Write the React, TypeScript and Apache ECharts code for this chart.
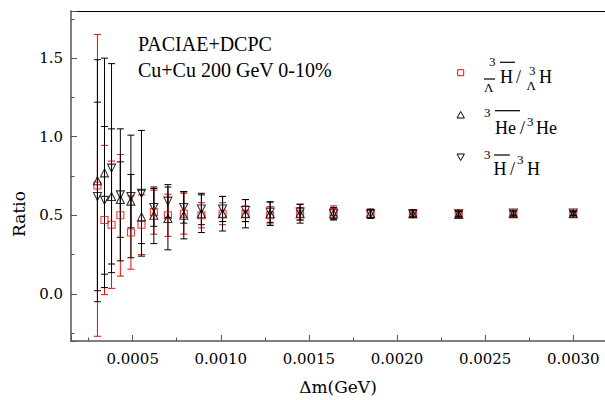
import React, { useEffect, useRef } from 'react';
import * as echarts from 'echarts';

// Δm (GeV)
const dm = [0.0003, 0.00034, 0.00038, 0.00043, 0.00049, 0.00055, 0.00062, 0.0007, 0.00079, 0.00089, 0.00101, 0.00114, 0.00128, 0.00145, 0.00164, 0.00185, 0.00209, 0.00235, 0.00266, 0.003];
// anti-hypertriton / hypertriton
const ratioLambda = [0.69, 0.47, 0.44, 0.5, 0.39, 0.44, 0.52, 0.5, 0.51, 0.5, 0.51, 0.51, 0.5, 0.51, 0.52, 0.51, 0.51, 0.51, 0.51, 0.51];
const errLambda = [0.96, 0.475, 0.405, 0.387, 0.233, 0.19, 0.14, 0.134, 0.13, 0.08, 0.07, 0.05, 0.055, 0.04, 0.04, 0.025, 0.02, 0.015, 0.015, 0.012];
// anti-helium3 / helium3
const ratioHe = [0.72, 0.77, 0.62, 0.6, 0.59, 0.49, 0.5, 0.48, 0.5, 0.51, 0.51, 0.51, 0.51, 0.51, 0.51, 0.51, 0.51, 0.505, 0.51, 0.51];
const errHe = [0.77, 0.73, 0.43, 0.24, 0.17, 0.17, 0.18, 0.2, 0.15, 0.12, 0.11, 0.09, 0.075, 0.06, 0.04, 0.03, 0.025, 0.02, 0.02, 0.015];
// anti-triton / triton
const ratioH = [0.62, 0.595, 0.8, 0.63, 0.62, 0.64, 0.55, 0.59, 0.55, 0.54, 0.54, 0.53, 0.52, 0.52, 0.51, 0.51, 0.51, 0.51, 0.515, 0.515];
const errH = [0.6, 0.47, 0.665, 0.42, 0.39, 0.4, 0.12, 0.105, 0.1, 0.1, 0.08, 0.07, 0.065, 0.05, 0.035, 0.025, 0.02, 0.018, 0.015, 0.015];

const annotation = ['PACIAE+DCPC', 'Cu+Cu 200 GeV 0-10%'];
const xName = 'Δm(GeV)';
const yName = 'Ratio';

const RED = '#ff0000';
const BLACK = '#000000';
const SERIF = '"Liberation Serif", "Times New Roman", serif';
const LABEL_FONT = '"DejaVu Serif", serif';

function errorSeries(name: string, vals: number[], errs: number[], color: string) {
  return {
    type: 'custom',
    name,
    z: 2,
    data: dm.map((x, i) => [x, vals[i] - errs[i], vals[i] + errs[i]]),
    encode: { x: 0, y: [1, 2] },
    renderItem: (_params: any, api: any) => {
      const x = api.value(0);
      const lo = api.coord([x, api.value(1)]);
      const hi = api.coord([x, api.value(2)]);
      const hw = 3.5;
      const style = { stroke: color, lineWidth: 1 };
      return {
        type: 'group',
        children: [
          { type: 'line', shape: { x1: lo[0], y1: lo[1], x2: hi[0], y2: hi[1] }, style },
          { type: 'line', shape: { x1: lo[0] - hw, y1: lo[1], x2: lo[0] + hw, y2: lo[1] }, style },
          { type: 'line', shape: { x1: hi[0] - hw, y1: hi[1], x2: hi[0] + hw, y2: hi[1] }, style },
        ],
      };
    },
  };
}

function pointSeries(name: string, vals: number[], symbol: string, rotate: number, size: number, color: string) {
  return {
    type: 'scatter',
    name,
    z: 3,
    symbol,
    symbolRotate: rotate,
    symbolSize: size,
    data: dm.map((x, i) => [x, vals[i]]),
    itemStyle: { color: 'rgba(0,0,0,0)', borderColor: color, borderWidth: 1.1 },
  };
}

function txt(text: string, x: number, y: number, size: number, font = SERIF) {
  return {
    type: 'text',
    x,
    y,
    style: { text, font: `${size}px ${font}`, fill: BLACK, align: 'left', verticalAlign: 'middle' },
  };
}

function bar(x1: number, x2: number, y: number) {
  return { type: 'line', shape: { x1, y1: y, x2, y2: y }, style: { stroke: BLACK, lineWidth: 1.2 } };
}

export default function App() {
  const ref = useRef<HTMLDivElement>(null);
  useEffect(() => {
    if (!ref.current) return;
    const chart = echarts.init(ref.current, undefined, { renderer: 'svg' });
    const xMin = 0.00015;
    const xMax = 0.00318;
    const axisColor = '#555555';
    chart.setOption({
      animation: false,
      backgroundColor: '#ffffff',
      grid: { left: 71, right: 0, top: 11, bottom: 59, outerBoundsMode: 'none' },
      xAxis: [
        {
          type: 'value',
          min: xMin,
          max: xMax,
          name: xName,
          nameLocation: 'middle',
          nameGap: 37,
          nameTextStyle: { fontFamily: LABEL_FONT, fontSize: 17, color: BLACK },
          axisLine: { show: true, onZero: false, lineStyle: { color: axisColor, width: 1.5 } },
          axisTick: { show: true, inside: true, length: 6, lineStyle: { color: axisColor, width: 1 } },
          minorTick: { show: true, splitNumber: 2, length: 3.5, lineStyle: { color: axisColor, width: 1 } },
          axisLabel: {
            show: true,
            margin: 10,
            showMinLabel: false,
            showMaxLabel: false,
            fontFamily: LABEL_FONT,
            fontSize: 15,
            color: BLACK,
            formatter: (v: number) => {
              const k = v / 0.0005;
              return Math.abs(k - Math.round(k)) < 1e-6 ? v.toFixed(4) : '';
            },
          },
          splitLine: { show: false },
          minorSplitLine: { show: false },
        },
        {
          type: 'value',
          position: 'top',
          min: xMin,
          max: xMax,
          axisLine: { show: true, onZero: false, lineStyle: { color: BLACK, width: 1 } },
          axisTick: { show: false },
          axisLabel: { show: false },
          splitLine: { show: false },
        },
      ],
      yAxis: {
        type: 'value',
        min: -0.3,
        max: 1.8,
        splitNumber: 5,
        axisLine: { show: true, onZero: false, lineStyle: { color: axisColor, width: 1.5 } },
        axisTick: { show: true, inside: true, length: 6, lineStyle: { color: axisColor, width: 1 } },
        minorTick: { show: true, splitNumber: 2, length: 3.5, lineStyle: { color: axisColor, width: 1 } },
        axisLabel: {
          show: true,
          margin: 8,
          showMinLabel: false,
          showMaxLabel: false,
          fontFamily: LABEL_FONT,
          fontSize: 15,
          color: BLACK,
          formatter: (v: number) => (Math.abs(v * 2 - Math.round(v * 2)) < 1e-6 ? v.toFixed(1) : ''),
        },
        splitLine: { show: false },
      },
      series: [
        errorSeries('errLambda', ratioLambda, errLambda, RED),
        errorSeries('errHe', ratioHe, errHe, BLACK),
        errorSeries('errH', ratioH, errH, BLACK),
        pointSeries('Λ', ratioLambda, 'rect', 0, 7, RED),
        pointSeries('He', ratioHe, 'triangle', 0, 8, BLACK),
        pointSeries('H', ratioH, 'triangle', 180, 8, BLACK),
      ],
      graphic: [
        {
          type: 'text',
          x: 18.5,
          y: 214,
          rotation: Math.PI / 2,
          style: { text: yName, font: `17px ${LABEL_FONT}`, fill: BLACK, align: 'center', verticalAlign: 'middle' },
        },
        txt(annotation[0], 138, 44, 20),
        txt(annotation[1], 138, 69.5, 20),
        // legend row 1: hypertriton
        { type: 'rect', shape: { x: 457.7, y: 69.7, width: 6, height: 6 }, style: { fill: 'none', stroke: RED, lineWidth: 1 } },
        txt('3', 489, 61.3, 13),
        txt('Λ', 484, 87.5, 13),
        bar(484, 495, 79),
        txt('H', 500, 77, 18),
        bar(500, 515, 62.3),
        txt('/', 516, 77, 18),
        txt('3', 529, 70.5, 13),
        txt('Λ', 526.5, 85.5, 13),
        txt('H', 539, 77, 18),
        // legend row 2: helium-3
        { type: 'polygon', shape: { points: [[460.7, 111.5], [457, 118], [464.4, 118]] }, style: { fill: 'none', stroke: BLACK, lineWidth: 1 } },
        txt('3', 484, 112.5, 13),
        txt('He', 495, 127.5, 18),
        bar(495, 520, 110.7),
        txt('/', 520, 127.5, 18),
        txt('3', 527, 121.3, 13),
        txt('He', 536, 127.5, 18),
        // legend row 3: triton
        { type: 'polygon', shape: { points: [[457, 154], [464.4, 154], [460.7, 160.5]] }, style: { fill: 'none', stroke: BLACK, lineWidth: 1 } },
        txt('3', 484, 154.5, 13),
        txt('H', 493.5, 169, 18),
        bar(494, 510, 155),
        txt('/', 510, 169, 18),
        txt('3', 517, 159, 13),
        txt('H', 527, 169, 18),
      ],
    });
    return () => chart.dispose();
  }, []);
  return <div ref={ref} style={{ position: 'fixed', left: 0, top: 0, width: 605, height: 400 }} />;
}
